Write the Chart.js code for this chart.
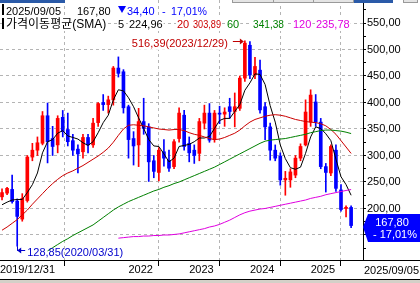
<!DOCTYPE html>
<html>
<head>
<meta charset="utf-8">
<script src="https://cdn.jsdelivr.net/npm/chart.js@4.4.0/dist/chart.umd.min.js"></script>
<style>
  html, body { margin: 0; padding: 0; background: #fff; }
  #wrap { width: 420px; height: 283px; position: relative; }
</style>
</head>
<body>
<div id="wrap"><canvas id="chart" width="420" height="283"></canvas></div>
<script>
// monthly candles 2019/12 .. 2025/09
const months = [
  '2019/12',
  '2020/01','2020/02','2020/03','2020/04','2020/05','2020/06','2020/07','2020/08','2020/09','2020/10','2020/11','2020/12',
  '2021/01','2021/02','2021/03','2021/04','2021/05','2021/06','2021/07','2021/08','2021/09','2021/10','2021/11','2021/12',
  '2022/01','2022/02','2022/03','2022/04','2022/05','2022/06','2022/07','2022/08','2022/09','2022/10','2022/11','2022/12',
  '2023/01','2023/02','2023/03','2023/04','2023/05','2023/06','2023/07','2023/08','2023/09','2023/10','2023/11','2023/12',
  '2024/01','2024/02','2024/03','2024/04','2024/05','2024/06','2024/07','2024/08','2024/09','2024/10','2024/11','2024/12',
  '2025/01','2025/02','2025/03','2025/04','2025/05','2025/06','2025/07','2025/08','2025/09'
];
const opens = [222,229,236,214,180,215,297,310,323,375,332,320,372,349,328,312,307,334,320,362,400,396,405,465,458,
  392,332,320,364,354,290,268,307,291,279,332,376,323,310,304,361,380,330,380,378,392,383,389,446,
  508,452,461,392,354,310,299,254,254,263,295,320,363,401,363,279,267,310,235,200,202];
const highs = [237,240,263,218,228,300,323,335,383,399,355,375,385,380,340,320,340,340,370,400,415,412,468,486,462,
  395,345,389,408,360,300,315,330,310,330,390,385,335,320,370,395,398,385,393,390,408,418,450,516.39,
  515,485,480,400,361,320,305,270,275,300,322,405,424,415,370,285,320,320,245,205,205];
const lows = [216,226,210,128.85,176,212,290,300,320,286,300,305,335,318,300,267,295,305,315,355,385,380,395,448,380,
  295,282,279,340,251,258,252,280,270,275,325,310,288,285,290,350,325,325,360,355,370,354,385,440,
  445,445,380,330,291,290,244,225,240,258,290,318,355,355,275,231,262,232,195,184,164];
const closes = [230,238,213,185,219,297,310,324,375,326,317,370,345,326,310,303,334,320,361,398,396,405,465,455,390,
  330,318,364,351,288,270,310,295,276,326,380,317,305,300,364,380,329,380,378,382,383,392,446,512,
  452,468,386,354,310,295,254,257,269,295,317,382,414,363,279,268,317,238,198,202.2,167.8];

// moving averages as drawn (5, 20, 60, 120)
const ma5 = [207,212,216,217,217,230,245,267,305,326,330,342,347,337,334,331,324,319,326,343,362,376,405,424,422,
  409,392,371,351,330,318,317,303,288,295,317,319,321,326,333,333,336,351,366,370,370,383,396,423,
  437,454,453,434,394,363,320,294,277,274,278,304,335,354,351,341,328,293,260,245,224.96];
const ma20 = [159,165,172,179,188,197,208,218,228,238,247,255,262,267,271,276,281,287,293,299,306,314,325,338,350,
  357,358,357,356,354,352,350,349,348,349,349,347,343,340,338,335,332,330,331,334,338,342,348,356,
  363,368,371,374,376,377,376,374,371,368,366,364,363,362,360,356,349,340,328,316,303.89];
const ma60 = [null,null,null,null,null,null,null,null,null,
  120,126,132,138,143,149,154,159,164,169,176,183,190,197,203,208,213,217,221,225,229,233,236,240,243,247,250,
  254,258,262,266,270,274,278,283,288,293,298,303,308,313,318,323,327,329,330,331,332,334,336,338,340,343,345,
  347,348,348,347,346,344,341.38];
const ma120 = [null,null,null,null,null,null,null,null,null,null,null,null,null,null,null,null,null,null,null,null,null,null,null,
  144,145,146,147,147,148,148,149,149,150,150,151,152,154,156,158,160,162,165,167,170,174,178,183,188,192,
  195,197,199,200,202,204,206,208,210,212,214,216,219,221,223,226,228,230,232,234,235.78];

const yTicks = [575,550,525,500,475,450,425,400,375,350,325,300,275,250,225,200,175,150,125];
const yearLabels = ['2022','2023','2024','2025'];
const firstDate = '2019/12/31';
const lastDate = '2025/09/05';
const highDate = '2023/12/29';
const lowDate = '2020/03/31';

const FONT = '"Liberation Sans", Arial, sans-serif';
const KFONT = '"Liberation Sans", "Noto Sans CJK KR", sans-serif';
const X_MIN = -0.4, X_MAX = 71.35;

const fmt = v => v.toFixed(2).replace('.', ',');
const candleColors = closes.map((c, i) => c >= opens[i] ? '#ff0000' : '#0000ff');
const xTickVals = [X_MIN].concat(yearLabels.map(y => months.indexOf(y + '/01')));
const xTickText = [firstDate].concat(yearLabels);

// text with a white box behind it, like the terminal's header labels
function tag(ctx, text, x, base, color, font, maxW, bg) {
  ctx.font = font;
  let w = ctx.measureText(text).width;
  if (maxW && w > maxW) w = maxW;
  if (bg !== false) {
    ctx.fillStyle = '#fff';
    ctx.fillRect(x - 1, base - 11, w + 2, 14);
  }
  ctx.fillStyle = color;
  if (maxW) ctx.fillText(text, x, base, maxW);
  else ctx.fillText(text, x, base);
  return w;
}

const decor = {
  id: 'decor',
  beforeDraw(chart) {
    const ctx = chart.ctx;
    ctx.save();
    ctx.fillStyle = '#fff';
    ctx.fillRect(0, 0, chart.width, chart.height);
    ctx.restore();
  },
  afterDraw(chart) {
    const { ctx, chartArea: ca, scales: { x, y } } = chart;
    ctx.save();
    ctx.textBaseline = 'alphabetic';
    ctx.textAlign = 'left';

    // toolbar remnants at the very top
    ctx.fillStyle = '#2a5aa8';
    ctx.fillRect(0, 0, 65, 3);
    ctx.fillRect(353, 0, 40, 3);
    ctx.fillStyle = '#e4e4e4';
    ctx.fillRect(232, 0, 121, 3);
    ctx.fillRect(403, 0, 14, 3);
    ctx.strokeStyle = '#9a9a9a';
    ctx.lineWidth = 1;
    [[232, 41], [273, 40], [313, 40], [403, 14]].forEach(([bx, bw]) => ctx.strokeRect(bx + 0.5, -1, bw, 3.5));

    // header line 1
    const n = closes.length;
    const last = closes[n - 1], prev = closes[n - 2];
    const diff = last - prev, pct = diff / prev * 100;
    ctx.fillStyle = '#000';
    ctx.fillRect(2, 4, 2, 11);
    tag(ctx, lastDate, 6, 15, '#000', '11px ' + FONT);
    tag(ctx, fmt(last), 77, 15, '#000', '11px ' + FONT);
    ctx.fillStyle = '#fff';
    ctx.fillRect(117, 4, 10, 12);
    ctx.fillStyle = '#0000ff';
    ctx.beginPath();
    ctx.moveTo(118, 6); ctx.lineTo(126, 6); ctx.lineTo(122, 13); ctx.closePath(); ctx.fill();
    tag(ctx, fmt(Math.abs(diff)), 127, 15, '#0000ff', '11px ' + FONT);
    tag(ctx, '-', 162, 15, '#0000ff', '11px ' + FONT);
    tag(ctx, fmt(Math.abs(pct)) + '%', 171, 15, '#0000ff', '11px ' + FONT, 36);

    // header line 2 (legend)
    ctx.fillStyle = '#000';
    ctx.fillRect(2, 18, 2, 11);
    tag(ctx, '가격이동평균(SMA)', 6, 28, '#000', '12px ' + KFONT);
    const legend = [
      ['5', 118, ma5, '#000', 129, 34],
      ['20', 177, ma20, '#cc0000', 193, 28],
      ['60', 227, ma60, '#008000', 253, 31],
      ['120', 293, ma120, '#e000e0', 316, 34]
    ];
    legend.forEach(([p, lx, arr, col, vx, mw]) => {
      tag(ctx, p, lx, 28, col, '11px ' + FONT);
      tag(ctx, fmt(arr[arr.length - 1]), vx, 28, col, '11px ' + FONT, mw);
    });

    // high marker
    const iMax = highs.indexOf(Math.max(...highs));
    const hx = x.getPixelForValue(iMax), hy = y.getPixelForValue(highs[iMax]);
    const hText = fmt(highs[iMax]) + '(' + highDate + ')';
    ctx.font = '11px ' + FONT;
    const hw = Math.max(ctx.measureText(hText).width, 100);
    tag(ctx, hText, hx - 13 - hw, hy + 6, '#c00000', '11px ' + FONT, hw);
    const hyr = Math.round(hy) + 0.5;
    ctx.strokeStyle = '#c00000';
    ctx.beginPath();
    ctx.moveTo(hx - 12, hyr); ctx.lineTo(hx - 2, hyr); ctx.stroke();
    ctx.fillStyle = '#c00000';
    ctx.beginPath();
    ctx.moveTo(hx - 1, hyr); ctx.lineTo(hx - 5, hyr - 3); ctx.lineTo(hx - 5, hyr + 3);
    ctx.closePath(); ctx.fill();

    // low marker
    const iMin = lows.indexOf(Math.min(...lows));
    const lx = x.getPixelForValue(iMin), ly = y.getPixelForValue(lows[iMin]);
    const lyr = Math.round(ly) + 4.5;
    tag(ctx, fmt(lows[iMin]) + '(' + lowDate + ')', lx + 10, ly + 10, '#0000cc', '11px ' + FONT, 102, false);
    ctx.strokeStyle = '#0000cc';
    ctx.beginPath();
    ctx.moveTo(Math.round(lx) + 0.5, ly); ctx.lineTo(Math.round(lx) + 0.5, lyr);
    ctx.moveTo(lx, lyr); ctx.lineTo(lx + 8, lyr);
    ctx.stroke();
    ctx.fillStyle = '#0000cc';
    ctx.beginPath();
    ctx.moveTo(lx, lyr); ctx.lineTo(lx + 4, lyr - 3); ctx.lineTo(lx + 4, lyr + 3);
    ctx.closePath(); ctx.fill();

    // axis line extension and bottom frame
    ctx.fillStyle = '#000';
    ctx.fillRect(ca.right, ca.bottom, chart.width - ca.right, 1);
    ctx.fillRect(0, 279, chart.width, 1);
    ctx.fillStyle = '#d4d0c8';
    ctx.fillRect(0, 280, chart.width, 3);

    // last date at bottom right
    ctx.font = '11px ' + FONT;
    ctx.fillStyle = '#000';
    ctx.textAlign = 'right';
    ctx.fillText(lastDate, chart.width - 1, 274);

    // current price box
    const py = Math.round(y.getPixelForValue(last));
    ctx.fillStyle = '#0000ff';
    ctx.beginPath();
    ctx.moveTo(ca.right, py + 1);
    ctx.lineTo(ca.right + 5, py - 12);
    ctx.lineTo(chart.width, py - 12);
    ctx.lineTo(chart.width, py + 16);
    ctx.lineTo(ca.right + 5, py + 16);
    ctx.closePath();
    ctx.fill();
    ctx.fillStyle = '#fff';
    ctx.textAlign = 'center';
    ctx.font = '11px ' + FONT;
    ctx.fillText(fmt(last), 392, py);
    ctx.fillText('- ' + fmt(Math.abs(pct)) + '%', 395, py + 12);
    ctx.restore();
  }
};

new Chart(document.getElementById('chart'), {
  type: 'bar',
  data: {
    datasets: [
      { type: 'line', data: ma120.map((v, i) => ({ x: i, y: v })), borderColor: '#e000e0', borderWidth: 1, pointRadius: 0, order: 0 },
      { type: 'line', data: ma60.map((v, i) => ({ x: i, y: v })), borderColor: '#008000', borderWidth: 1, pointRadius: 0, order: 0 },
      { type: 'line', data: ma20.map((v, i) => ({ x: i, y: v })), borderColor: '#cc0000', borderWidth: 1, pointRadius: 0, order: 0 },
      { type: 'line', data: ma5.map((v, i) => ({ x: i, y: v })), borderColor: '#000000', borderWidth: 1, pointRadius: 0, order: 0 },
      { data: months.map((m, i) => ({ x: i, y: [lows[i], highs[i]] })), backgroundColor: candleColors,
        barThickness: 1, grouped: false, order: 2 },
      { data: months.map((m, i) => ({ x: i, y: [opens[i], closes[i]] })), backgroundColor: candleColors,
        barThickness: 3, grouped: false, minBarLength: 1, order: 1 }
    ]
  },
  options: {
    responsive: false,
    animation: false,
    devicePixelRatio: 1,
    layout: { padding: 0 },
    plugins: { legend: { display: false }, tooltip: { enabled: false } },
    scales: {
      x: {
        type: 'linear', min: X_MIN, max: X_MAX, offset: false,
        afterBuildTicks: s => { s.ticks = xTickVals.map(v => ({ value: v })); },
        afterFit: s => { s.height = 23; s.paddingLeft = 0; s.paddingRight = 0; },
        grid: {
          color: c => c.index === 0 ? 'rgba(0,0,0,0)' : '#b4b4b4',
          tickColor: c => c.index === 0 ? 'rgba(0,0,0,0)' : '#000',
          tickLength: 6, lineWidth: 1
        },
        border: { color: '#000', dash: [3, 3] },
        ticks: {
          autoSkip: false, maxRotation: 0, align: 'start', padding: -3, color: '#000',
          font: { family: FONT, size: 11 },
          callback: (v, i) => xTickText[i]
        }
      },
      y: {
        type: 'linear', position: 'right', min: 102.8, max: 593.4,
        afterBuildTicks: s => { s.ticks = yTicks.map(v => ({ value: v })); },
        afterFit: s => { s.width = 57; s.paddingTop = 0; s.paddingBottom = 0; },
        grid: {
          color: c => (c.tick && c.tick.value % 50 === 0) ? '#b4b4b4' : 'rgba(0,0,0,0)',
          tickColor: '#000', tickLength: 3, lineWidth: 1
        },
        border: { color: '#000', dash: [3, 3] },
        ticks: {
          autoSkip: false, padding: 1, color: '#000',
          font: { family: FONT, size: 11 },
          callback: v => v % 50 === 0 ? fmt(v) : ''
        }
      }
    }
  },
  plugins: [decor]
});
</script>
</body>
</html>
